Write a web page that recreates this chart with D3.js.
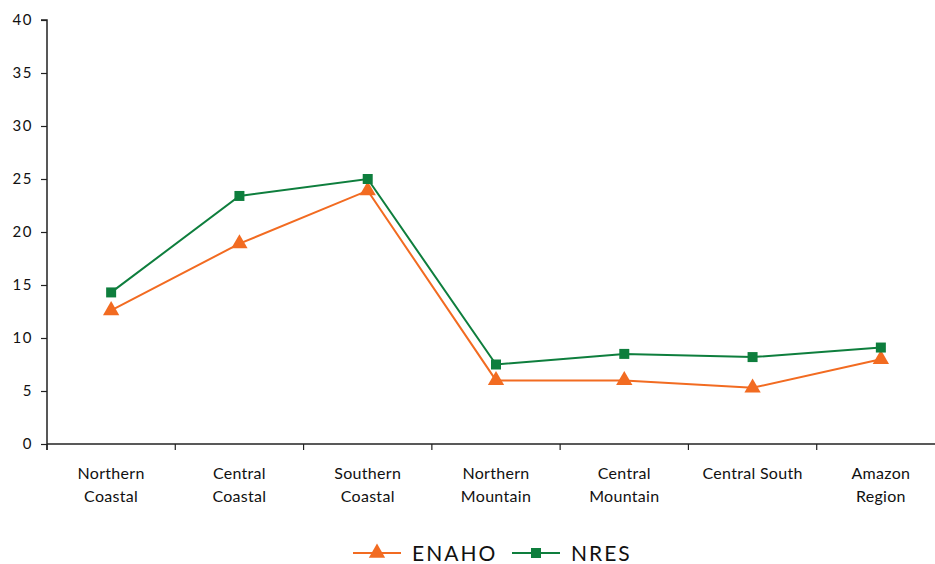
<!DOCTYPE html>
<html><head><meta charset="utf-8">
<script src="https://cdn.jsdelivr.net/npm/d3@7"></script>
<style>body{margin:0;background:#fff}svg{display:block}</style>
</head><body>
<script>
const categories = [["Northern","Coastal"],["Central","Coastal"],["Southern","Coastal"],["Northern","Mountain"],["Central","Mountain"],["Central South"],["Amazon","Region"]];
const enaho = [12.6, 18.9, 23.9, 6.0, 6.0, 5.3, 8.0];
const nres = [14.3, 23.4, 25.0, 7.5, 8.5, 8.2, 9.1];
const yTicks = [0,5,10,15,20,25,30,35,40];
const seriesNames = ["ENAHO","NRES"];

const W=935,H=564;
const svg=d3.select("body").append("svg").attr("width",W).attr("height",H);
const m={l:47,t:20,r:-10,b:120};
const x=d3.scaleBand().domain(d3.range(categories.length)).range([m.l,W-m.r]);
const y=d3.scaleLinear().domain([0,40]).range([444,20]);
const font="Lato, 'DejaVu Sans', sans-serif";
const orange="#F26B21", green="#0E7E3D";

// y axis
const ya=svg.append("g").attr("transform",`translate(${m.l},0)`)
  .call(d3.axisLeft(y).tickValues(yTicks).tickSize(6).tickPadding(8));
ya.select(".domain").attr("stroke","#222").attr("stroke-width",1.5).attr("d",`M-6,${y(40)}H0V${y(0)+6}`);
ya.selectAll(".tick line").attr("stroke","#222").attr("stroke-width",1.2);
ya.selectAll(".tick text").attr("font-family",font).attr("font-size",15).attr("fill","#111").attr("letter-spacing","1.5px");

// x axis
const xa=svg.append("g").attr("transform",`translate(0,${y(0)})`);
xa.append("line").attr("x1",m.l).attr("x2",W).attr("stroke","#222").attr("stroke-width",1.5);
const xt=d3.range(categories.length+1).map(i=>m.l+i*x.step());
xa.selectAll(".xt").data(xt).join("line").attr("x1",d=>d).attr("x2",d=>d).attr("y1",0).attr("y2",6).attr("stroke","#222").attr("stroke-width",1.2);
categories.forEach((c,i)=>{
  const t=svg.append("text").attr("x",x(i)+x.bandwidth()/2).attr("y",479)
    .attr("text-anchor","middle").attr("font-family",font).attr("font-size",16).attr("letter-spacing","0.3px").attr("fill","#111");
  c.forEach((s,j)=>t.append("tspan").attr("x",x(i)+x.bandwidth()/2).attr("dy",j?23:0).text(s));
});

const cx=i=>x(i)+x.bandwidth()/2;
const line=d3.line().x((d,i)=>cx(i)).y(d=>y(d));
const tri=d3.symbol().type(d3.symbolTriangle).size(115);
const sq=d3.symbol().type(d3.symbolSquare).size(100);

svg.append("path").attr("d",line(enaho)).attr("fill","none").attr("stroke",orange).attr("stroke-width",2);
svg.append("path").attr("d",line(nres)).attr("fill","none").attr("stroke",green).attr("stroke-width",2);
svg.selectAll(".mt").data(enaho).join("path").attr("d",tri).attr("fill",orange)
  .attr("transform",(d,i)=>`translate(${cx(i)},${y(d)})`);
svg.selectAll(".ms").data(nres).join("path").attr("d",sq).attr("fill",green)
  .attr("transform",(d,i)=>`translate(${cx(i)},${y(d)})`);

// legend
const lg=svg.append("g").attr("transform","translate(0,553)");
const items=[{n:seriesNames[0],c:orange,s:tri,x:353},{n:seriesNames[1],c:green,s:sq,x:512}];
items.forEach(it=>{
  lg.append("line").attr("x1",it.x).attr("x2",it.x+48).attr("stroke",it.c).attr("stroke-width",2);
  lg.append("path").attr("d",it.s).attr("fill",it.c).attr("transform",`translate(${it.x+24},0)`);
  lg.append("text").attr("x",it.x+59).attr("y",8).attr("font-family",font).attr("font-size",21).attr("letter-spacing","2px").attr("fill","#111").text(it.n);
});
</script>
</body></html>
